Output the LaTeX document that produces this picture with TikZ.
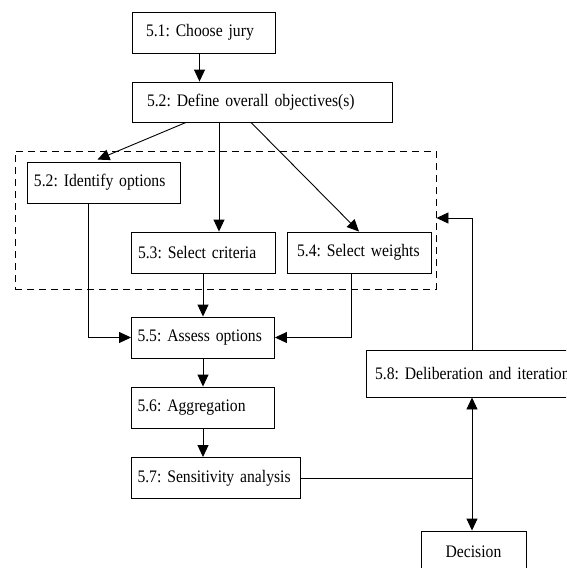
\documentclass[tikz,border=0pt]{standalone}
\usepackage{fontspec}
\setmainfont{Liberation Serif}[FakeStretch=0.89]
\usetikzlibrary{arrows.meta}
\tikzset{box/.style={draw,rectangle,minimum height=41,inner xsep=7pt,align=left,font=\fontsize{17.6pt}{20pt}\selectfont}}
\frenchspacing
\begin{document}
\begin{tikzpicture}[x=1pt,y=-1pt,line width=0.9pt,>={Triangle[length=12pt,width=11pt]}]
        \useasboundingbox (0,0) rectangle (566,568);
        \clip (0,0) rectangle (566,568);
        \node[draw,dashed,dash pattern=on 7pt off 5pt,minimum width=421,minimum height=138] (panel) at (225.5,220) {};
        \node[box,text width=115pt,inner xsep=14pt] (jury) at (203.5,32.5) {5.1: Choose jury};
         \node[box,text width=230pt,inner xsep=15pt,minimum height=40] (objectives) at (262,102) {5.2: Define overall objectives(s)};
         \node[box,text width=139pt] (identify) at (103.5,182.5) {5.2: Identify options};
         \node[box,text width=130pt] (criteria) at (203,252.5) {5.3: Select criteria};
         \node[box,text width=124pt,inner xsep=10pt,right of=criteria,node distance=156pt] (weights) {5.4: Select weights};
         \node[box,text width=131pt,inner xsep=6pt,below of=criteria,node distance=85pt] (assess) {5.5: Assess options};
         \node[box,text width=131pt,inner xsep=6pt,below of=assess,node distance=70pt] (aggregation) {5.6: Aggregation};
         \node[box,text width=157pt,inner xsep=6pt,below of=aggregation,node distance=70.5pt,xshift=13pt] (sensitivity) {5.7: Sensitivity analysis};
         \coordinate (junction) at (472,478);
         \node[box,text width=194pt,inner xsep=9pt,minimum height=47] (deliberation) at (472,373.5) {\mbox{5.8: Deliberation and iteration}};
         \node[box,minimum width=105,align=center] (decision) at (473.5,551.5) {Decision};
         \draw[->] ([xshift=-4pt]jury.south) -- ([xshift=-4pt]jury.south |- objectives.north);
         \draw[->] ([xshift=-76pt]objectives.south) -- ([xshift=-6pt,yshift=2pt]identify.north);
        \draw[->] ([xshift=16pt]criteria.north |- objectives.south) -- ([xshift=16pt]criteria.north);
        \draw[->] ([xshift=-11pt]objectives.south) -- (weights.north);
     \draw[->] ([xshift=-15pt]identify.south) |- (assess.west);
     \draw[->] (criteria.south) -- (criteria.south |- assess.north);
     \draw[->] ([xshift=-8pt]weights.south) |- (assess.east);
     \draw[->] (assess) -- (aggregation);
     \draw[->] (aggregation.south) -- (aggregation.south |- sensitivity.north);
     \draw (sensitivity.east) -- (junction);
     \draw[->] (junction) -- (junction |- decision.north);
     \draw[->] (junction) -- (junction |- deliberation.south);
     \draw[->] (deliberation.north) |- ([yshift=2pt]panel.east);
      \end{tikzpicture}
\end{document}
